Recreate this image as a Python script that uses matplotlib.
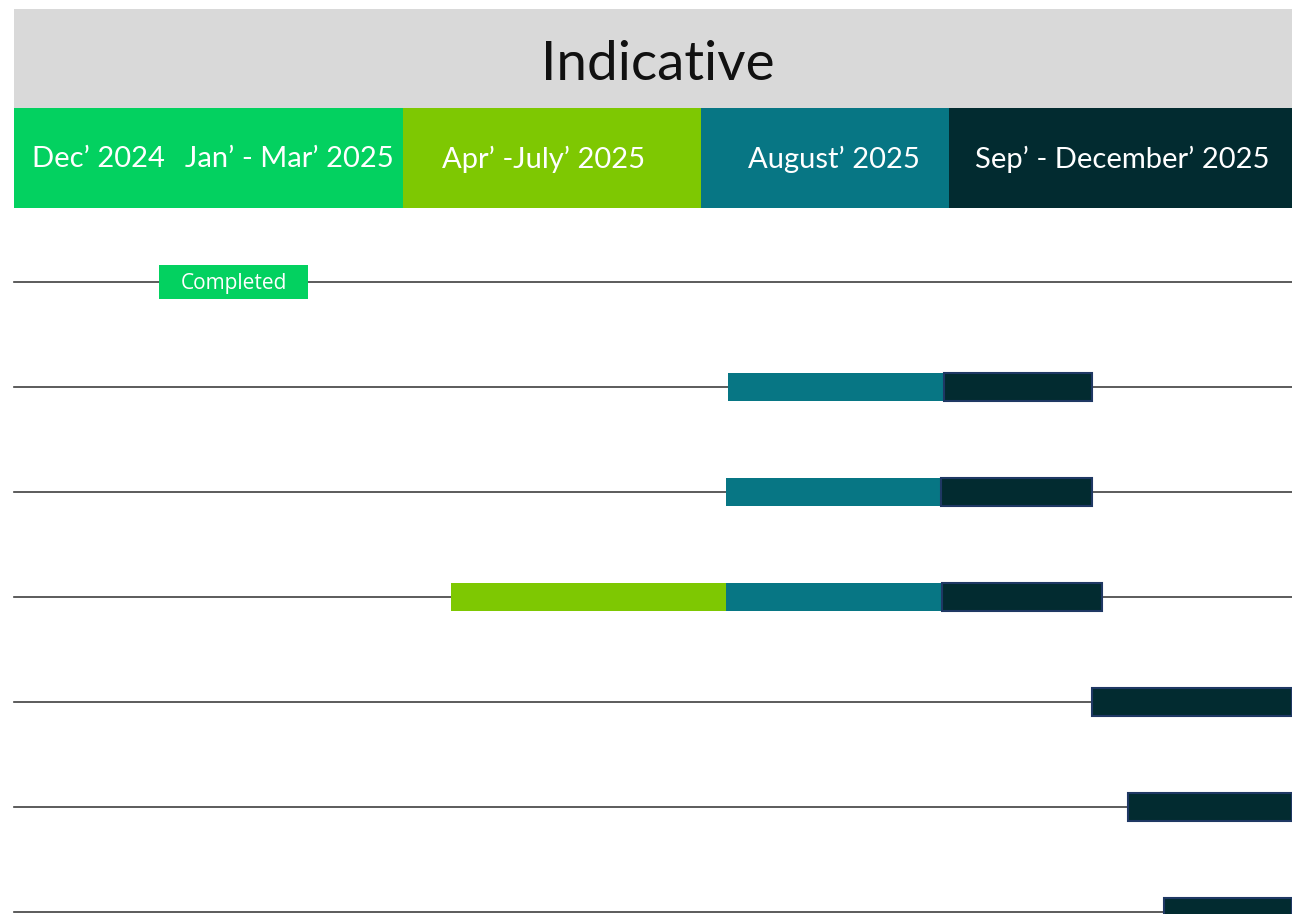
import matplotlib
matplotlib.use("Agg")
import matplotlib.pyplot as plt
from matplotlib.patches import Rectangle

# header phases (x in timeline px units)
phase_keys = ["dec_mar", "apr_jul", "aug", "sep_dec"]
phase_start = [14, 403, 701, 949]
phase_end = [403, 701, 949, 1292]
phase_colors = {"dec_mar": "#03D160", "apr_jul": "#7EC802",
                "aug": "#077684", "sep_dec": "#022B30"}

header_labels = ["Dec\u2019 2024", "Jan\u2019 - Mar\u2019 2025", "Apr\u2019 -July\u2019 2025",
                 "August\u2019 2025", "Sep\u2019 - December\u2019 2025"]
header_label_x = [98, 289, 544, 834, 1122]

title = "Indicative"

# task rows: (row, start, end, phase)
row_count = 7
completed = (0, 159, 308)
segments = [
    (1, 728, 944, "aug"), (1, 944, 1092, "sep_dec"),
    (2, 726, 941, "aug"), (2, 941, 1092, "sep_dec"),
    (3, 451, 726, "apr_jul"), (3, 726, 942, "aug"), (3, 942, 1102, "sep_dec"),
    (4, 1092, 1292, "sep_dec"),
    (5, 1128, 1292, "sep_dec"),
    (6, 1164, 1292, "sep_dec"),
]

fig = plt.figure(figsize=(12.92, 9.14), dpi=100)
ax = fig.add_axes([0, 0, 1, 1])
ax.set_xlim(0, 1292)
# rows are 105px apart, row 0 sits at y=282px
ax.set_ylim((914 - 282) / 105, (0 - 282) / 105)
ax.axis("off")

# grey title band
ax.add_patch(Rectangle((14, -2.6), 1278, 0.943, color="#D9D9D9", lw=0))
ax.text(658, -2.075, title, ha="center", va="center", fontsize=39.5,
        color="#111111", family="Lato")

# coloured phase band
for k, s, e in zip(phase_keys, phase_start, phase_end):
    ax.add_patch(Rectangle((s, -1.657), e - s, 0.952, color=phase_colors[k], lw=0))
for lab, x in zip(header_labels, header_label_x):
    ax.text(x, -1.17, lab, ha="center", va="center", fontsize=21,
            color="white", family="Lato")

# row lines
for r in range(row_count):
    ax.plot([14, 1292], [r, r], color="#404040", lw=1.2, zorder=1)

# completed box
r, s, e = completed
ax.add_patch(Rectangle((s, r - 0.165), e - s, 0.33, color="#03D160", lw=0, zorder=2))
ax.text((s + e) / 2, r + 0.01, "Completed", ha="center", va="center",
        fontsize=15, color="white", family="Open Sans", zorder=3)

h = 0.27
for r, s, e, k in segments:
    if k == "sep_dec":
        ax.add_patch(Rectangle((s, r - h / 2), e - s, h, facecolor=phase_colors[k],
                               edgecolor="#1F3864", lw=1.5, zorder=2))
    else:
        ax.add_patch(Rectangle((s, r - h / 2), e - s, h, color=phase_colors[k],
                               lw=0, zorder=2))

fig.savefig("out.png", dpi=100)
